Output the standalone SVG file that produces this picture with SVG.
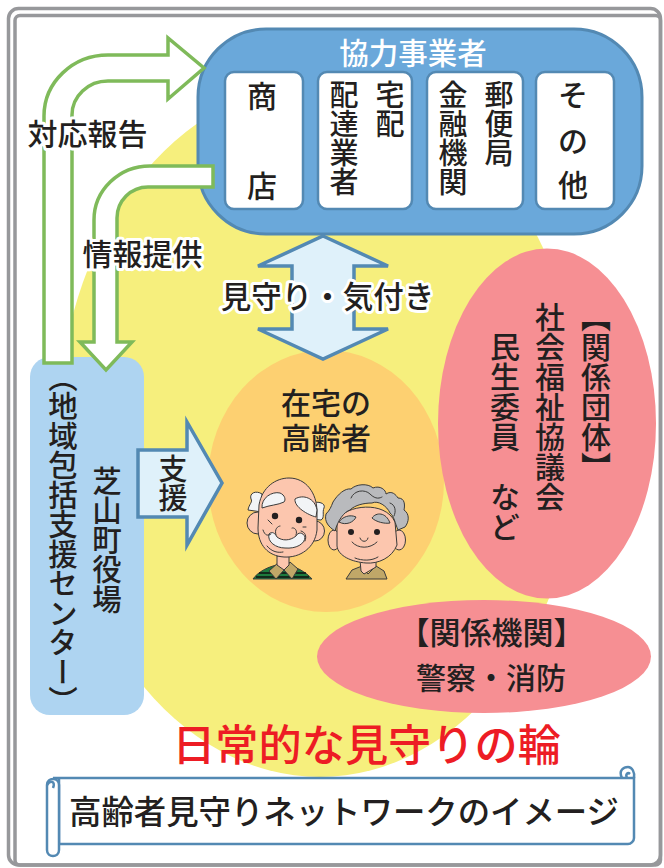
<svg xmlns="http://www.w3.org/2000/svg" width="664" height="868" viewBox="0 0 664 868">
<style>
text{font-family:"Noto Sans CJK JP","Noto Sans",sans-serif;fill:#231f20;font-weight:500}
.v{writing-mode:vertical-rl;text-anchor:start}
.m{text-anchor:middle}
.h{paint-order:stroke;stroke:#fff;stroke-width:6;stroke-linejoin:round}
.g{fill:#fff;stroke:#7fba5a;stroke-width:3.5;stroke-linejoin:miter}
.b{fill:#dff1fa;stroke:#5389b3;stroke-width:3.5;stroke-linejoin:miter}
.c{fill:#fff;stroke:#5389b3;stroke-width:2.5}
.o{stroke:#3a3a3a;stroke-width:1;stroke-linejoin:round}
.l{fill:none;stroke:#3a3a3a;stroke-width:1;stroke-linecap:round}
.s{fill:none;stroke:#5389b3;stroke-width:2.500}
</style>
<rect width="664" height="868" fill="#fff"/>
<g id="frame" fill="none" stroke="#97989b">
<rect x="8.500" y="8.500" width="652" height="856.500" rx="10" stroke-width="3.500"/>
<rect x="15" y="15.500" width="645.500" height="849.500" rx="5" stroke-width="3.500"/>
</g>
<ellipse id="ring" cx="320" cy="430" rx="262" ry="347" fill="#f6ef7d"/>
<ellipse id="elderly-bg" cx="326" cy="481" rx="118" ry="131" fill="#fdd071"/>
<g id="partners">
<rect x="198" y="29" width="444" height="205" rx="68" fill="#6aa8da" stroke="#5389b3" stroke-width="3"/>
<rect class="c" x="225" y="72" width="78" height="137" rx="9"/>
<rect class="c" x="318" y="72" width="94" height="137" rx="9"/>
<rect class="c" x="427" y="72" width="96" height="137" rx="9"/>
<rect class="c" x="536" y="72" width="78" height="137" rx="9"/>
<text class="m" x="413" y="64" font-size="29.500" style="fill:#fff">協力事業者</text>
<text class="m" x="262" y="106.500" font-size="30">商</text>
<text class="m" x="262" y="196.500" font-size="30">店</text>
<text class="v" x="390" y="80" font-size="29">宅配</text>
<text class="v" x="344" y="80" font-size="29">配達業者</text>
<text class="v" x="499" y="80" font-size="29">郵便局</text>
<text class="v" x="453" y="80" font-size="29">金融機関</text>
<text class="m" x="573" y="106" font-size="30">そ</text>
<text class="m" x="573" y="152" font-size="30">の</text>
<text class="m" x="573" y="196" font-size="30">他</text>
</g>
<g id="town">
<rect x="30" y="357" width="114" height="358" rx="20" fill="#aed4f1"/>
<text class="v" x="63" y="362" font-size="29.500">（地域包括支援センター）</text>
<text class="v" x="107" y="466" font-size="29.500">芝山町役場</text>
</g>
<g id="connectors">
<path class="g" d="M44 363V116A64 61 0 0 1 108 55H168V38L204 68L168 99V81H108A36 34 0 0 0 72 115V363Z"/>
<path class="g" d="M213 166H150A56 54 0 0 0 94 220V342H80L106 370L132 342H117V218A31 31 0 0 1 148 187H213Z"/>
<path class="b" d="M323 236L388 266H354V329H388L323 359L258 329H292V266H258Z"/>
<path class="b" d="M138 450H187V422L222 483L187 545V517H138Z"/>
</g>
<text class="m h" x="87.500" y="145" font-size="30">対応報告</text>
<text class="m h" x="142.500" y="265" font-size="30">情報提供</text>
<text class="m h" x="327.500" y="308" font-size="30.500">見守り・気付き</text>
<text class="v" x="173" y="454" font-size="29">支援</text>
<g id="elderly">
<text class="m" font-size="30"><tspan x="326" y="414">在宅の</tspan><tspan x="326" y="449">高齢者</tspan></text>
<g id="man">
<path class="o" fill="#1d7a3d" d="M253 579C258 572 268 566 282 564C296 566 306 572 312 579Z"/>
<path fill="none" stroke="#111" stroke-width="1.500" d="M259 573H306M256 577H309"/>
<path class="o" fill="#c0a768" d="M276 579L269 571L279 562L284 570L290 562L298 569L292 579L284 570Z"/>
<path class="o" fill="#fcc6ae" d="M277 556V565L284 570L289 565V556Z"/>
<path class="o" fill="#f2f4f6" d="M262 494C256 490 249 493 251 499C253 502 249 504 248 510L262 512ZM312 503C318 501 326 503 324 508C322 512 325 518 321 520L310 519Z"/>
<ellipse class="o" cx="258" cy="523" rx="11" ry="11" fill="#fcc6ae"/>
<ellipse class="o" cx="315" cy="531" rx="9.500" ry="10" fill="#fcc6ae"/>
<path class="o" fill="#fcc6ae" d="M259 505C262 487 276 478 289 478C306 478 317 493 317 512V530C315 548 300 558 284 557C268 556 258 545 258 528Z"/>
<path class="o" fill="#f2f4f6" d="M262 508C261 498 272 491 280 493C285 495 286 500 284 502C278 505 270 505 262 508ZM295 499C303 494 315 498 317 510L316 517C308 515 294 507 295 499Z"/>
<circle cx="275" cy="516" r="3.200" fill="#231f20"/>
<circle cx="299" cy="520" r="3.200" fill="#231f20"/>
<path class="o" fill="#f2f4f6" d="M269 534C272 531 275 533 277 537C282 541 290 541 296 536C298 532 303 532 305 537C305 544 296 549 285 548C276 548 267 542 269 534Z"/>
<path class="l" d="M276 535C274 529 278 526 280 526M296 535C298 530 294 527 292 528M263 530C265 536 268 536 271 534M301 531C305 532 307 536 305 541M267 546C272 552 278 553 283 552M268 520L272 524M303 527H306"/>
</g>
<g id="woman">
<path class="o" fill="#c0a768" d="M346 579L352 570L362 566L368 574L376 566L384 571L387 579Z"/>
<path class="o" fill="#fcc6ae" d="M360 560L361 571L364 574L376 567V558Z"/>
<ellipse class="o" cx="334" cy="540" rx="6" ry="10" fill="#fcc6ae"/>
<ellipse class="o" cx="399" cy="540" rx="6.500" ry="10" fill="#fcc6ae"/>
<path class="o" fill="#fcc6ae" d="M337 520C346 505 385 500 395 522L397 545C392 558 378 564 366 563C352 562 338 556 337 546Z"/>
<path class="o" fill="#b9babd" d="M335 531C329 527 324 522 326 514C330 510 331 507 333 502C338 494 345 488 351 489C356 484 368 483 373 488C380 485 386 490 386 494C392 490 396 495 398 498C405 498 405 505 404 510C410 514 409 522 405 527L398 530C395 523 394 516 390 513C387 506 378 500 372 503C364 503 355 505 350 510C344 512 338 520 335 531Z"/>
<path class="o" fill="#b9babd" d="M339 522C342 517 350 514 356 517C354 522 346 526 339 522ZM372 518C376 512 386 512 390 523C385 524 376 522 372 518Z"/>
<path class="l" d="M351 498C354 490 365 489 370 494C376 500 380 498 382 497M390 503C396 505 396 512 394 516"/>
<circle cx="351" cy="532" r="3" fill="#231f20"/>
<circle cx="377" cy="532" r="3" fill="#231f20"/>
<path class="l" d="M352 542C358 549 370 549 377 542M360 538C361 542 367 543 368 538M355 558C362 561 372 561 378 557"/>
</g>
</g>
<g id="groups">
<ellipse cx="547" cy="423.500" rx="109" ry="175" fill="#f68f93"/>
<text class="v" x="596" y="302" font-size="30">【関係団体】</text>
<text class="v" x="550" y="302" font-size="30">社会福祉協議会</text>
<text class="v" x="505" y="332" font-size="30">民生委員　など</text>
<ellipse cx="484" cy="656.500" rx="167" ry="56.500" fill="#f68f93"/>
<text class="m" x="491.500" y="644" font-size="31">【関係機関】</text>
<text class="m" x="491" y="689" font-size="30">警察・消防</text>
</g>
<text class="m" x="366.500" y="761" font-size="43.200" style="fill:#ed1c24">日常的な見守りの輪</text>
<g id="title">
<path fill="#fff" stroke="#5389b3" stroke-width="2.500" d="M53 778H634V838C634 841 631 844 628 844H59V778"/>
<path fill="#fff" stroke="#5389b3" stroke-width="2.500" d="M59 785V850C59 858 47 858 47 850V785C47 777 59 777 59 785Z"/>
<path class="s" d="M622 778C618 770 624 767 628 767C632 767 635 772 634 778M627 778C625 774 628 772 630 774"/>
<path class="s" d="M47 785C50 780 56 781 53 788"/>
<text class="m" x="344" y="824" font-size="32.400">高齢者見守りネットワークのイメージ</text>
</g>
</svg>
